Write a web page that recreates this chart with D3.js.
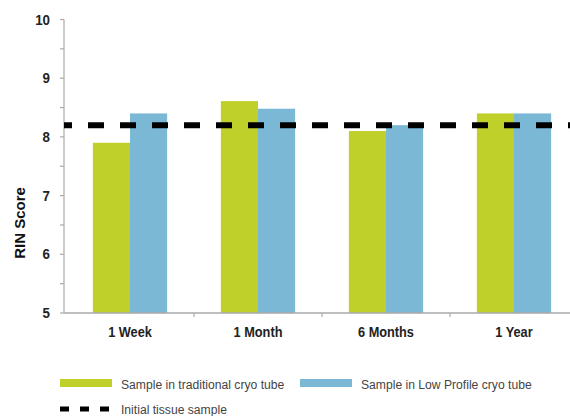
<!DOCTYPE html>
<html>
<head>
<meta charset="utf-8">
<script src="https://cdn.jsdelivr.net/npm/d3@7"></script>
<style>
  body { margin: 0; background: #fff; }
  svg { display: block; }
  text { font-family: "Liberation Sans", Arial, sans-serif; }
</style>
</head>
<body>
<div id="chart"></div>
<script>
// data
var categories = ["1 Week", "1 Month", "6 Months", "1 Year"];
var seriesNames = ["Sample in traditional cryo tube", "Sample in Low Profile cryo tube"];
var traditional = [7.9, 8.61, 8.1, 8.4];
var lowProfile = [8.4, 8.48, 8.2, 8.4];
var initialSample = 8.2;
var yTicks = [5, 6, 7, 8, 9, 10];
var yMinorTicks = [5.5, 6.5, 7.5, 8.5, 9.5];

var colors = ["#c0d02a", "#7bb8d6"];
var axisColor = "#aaaaaa";
var size = {w: 570, h: 416};

var svg = d3.select("#chart")
	.append("svg")
	.attr("width", size.w)
	.attr("height", size.h);

// the original uses a condensed face, so squeeze text horizontally
function squeeze(sel, k, fx, fy) {
	sel.attr("transform", function(d, i) {
		return "translate(" + fx(d, i) + "," + fy(d, i) + ") scale(" + k + ",1)";
	});
}

var y = d3.scaleLinear().domain([5, 10]).range([313, 19.5]);
var x = d3.scaleBand().domain(categories).range([66, 578])
	.paddingInner(0.42).paddingOuter(0.21);
var xs = d3.scaleBand().domain(seriesNames).range([0, x.bandwidth()]);

// bars
var rows = categories.map(function(c, i) {
	return {cat: c, values: [traditional[i], lowProfile[i]]};
});

var group = svg.selectAll(".cat")
	.data(rows)
	.enter().append("g")
	.attr("class", "cat")
	.attr("transform", function(d) { return "translate(" + x(d.cat) + ",0)"; });

group.selectAll("rect")
	.data(function(d) { return d.values.map(function(v, j) { return {name: seriesNames[j], v: v, j: j}; }); })
	.enter().append("rect")
	.attr("x", function(d) { return xs(d.name); })
	.attr("y", function(d) { return y(d.v); })
	.attr("width", xs.bandwidth())
	.attr("height", function(d) { return y(5) - y(d.v); })
	.attr("fill", function(d) { return colors[d.j]; });

// y axis
var yAxis = svg.append("g").attr("transform", "translate(64,0)");
yAxis.append("line")
	.attr("x1", 0).attr("x2", 0)
	.attr("y1", y(10)).attr("y2", y(5))
	.attr("stroke", axisColor).attr("stroke-width", 1.2);
yAxis.selectAll(".ytick")
	.data(yTicks.concat(yMinorTicks))
	.enter().append("line")
	.attr("x1", -4).attr("x2", 0)
	.attr("y1", function(d) { return y(d); })
	.attr("y2", function(d) { return y(d); })
	.attr("stroke", axisColor).attr("stroke-width", 1.2);
yAxis.selectAll(".ylabel")
	.data(yTicks)
	.enter().append("text")
	.attr("text-anchor", "end")
	.attr("font-size", "14.5px")
	.attr("font-weight", "bold")
	.attr("fill", "#222")
	.text(function(d) { return d; })
	.call(squeeze, 0.92, function() { return -14; }, function(d) { return y(d) + 5; });

svg.append("text")
	.attr("transform", "translate(25,223) rotate(-90)")
	.attr("text-anchor", "middle")
	.attr("font-size", "15px")
	.attr("font-weight", "bold")
	.attr("fill", "#111")
	.text("RIN Score");

// x axis
var xAxis = svg.append("g").attr("transform", "translate(0," + y(5) + ")");
xAxis.append("line")
	.attr("x1", 64).attr("x2", size.w)
	.attr("y1", 0).attr("y2", 0)
	.attr("stroke", axisColor).attr("stroke-width", 1.5);
xAxis.selectAll(".xtick")
	.data(categories.slice(1))
	.enter().append("line")
	.attr("x1", function(d) { return x(d) - x.step() * x.paddingInner() / 2; })
	.attr("x2", function(d) { return x(d) - x.step() * x.paddingInner() / 2; })
	.attr("y1", 0).attr("y2", 4)
	.attr("stroke", axisColor).attr("stroke-width", 1.2);
xAxis.selectAll(".xlabel")
	.data(categories)
	.enter().append("text")
	.attr("text-anchor", "middle")
	.attr("font-size", "14.5px")
	.attr("font-weight", "bold")
	.attr("fill", "#222")
	.text(function(d) { return d; })
	.call(squeeze, 0.88, function(d) { return x(d) + x.bandwidth() / 2; }, function() { return 24; });

// initial tissue sample line
svg.append("line")
	.attr("x1", 64).attr("x2", size.w + 20)
	.attr("y1", y(initialSample)).attr("y2", y(initialSample))
	.attr("stroke", "#000").attr("stroke-width", 6)
	.attr("stroke-dasharray", "16,16")
	.attr("stroke-dashoffset", 8);

// legend
var legend = svg.append("g");
var legendX = [60, 300];
seriesNames.forEach(function(name, i) {
	legend.append("rect")
		.attr("x", legendX[i]).attr("y", 379)
		.attr("width", 52).attr("height", 8)
		.attr("fill", colors[i]);
	legend.append("text")
		.datum(name)
		.attr("font-size", "13.5px")
		.attr("fill", "#444")
		.text(name)
		.call(squeeze, 0.9, function() { return legendX[i] + 61; }, function() { return 388.5; });
});
legend.append("line")
	.attr("x1", 60).attr("x2", 109)
	.attr("y1", 409).attr("y2", 409)
	.attr("stroke", "#000").attr("stroke-width", 5)
	.attr("stroke-dasharray", "9,11");
legend.append("text")
	.datum("Initial tissue sample")
	.attr("font-size", "13.5px")
	.attr("fill", "#444")
	.text("Initial tissue sample")
	.call(squeeze, 0.9, function() { return 121; }, function() { return 414; });
</script>
</body>
</html>
